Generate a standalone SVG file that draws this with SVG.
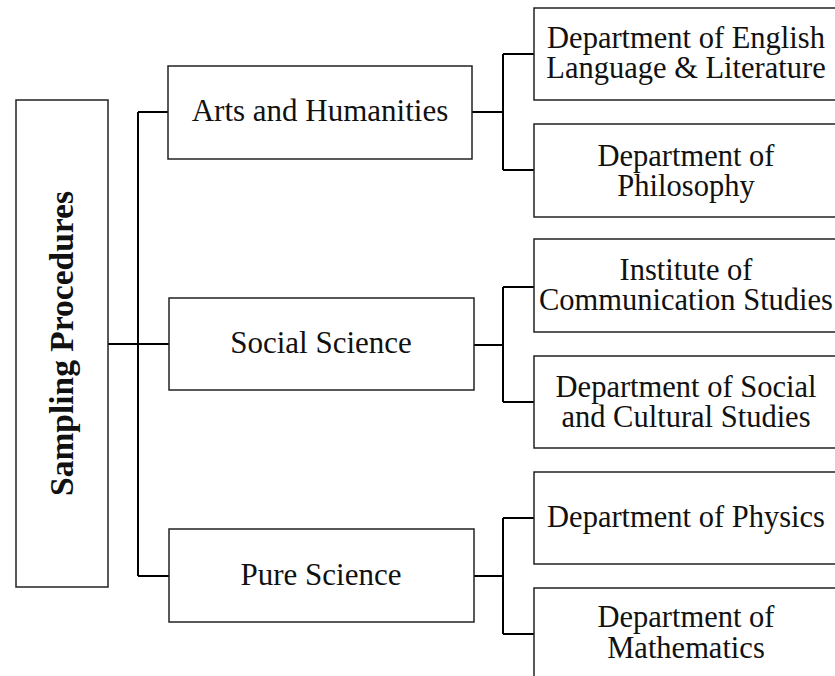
<svg xmlns="http://www.w3.org/2000/svg" width="835" height="676" viewBox="0 0 835 676">
<style>
.box{fill:#fff;stroke:#222;stroke-width:1.5}
.t{font-family:"Liberation Serif","Times New Roman",serif;font-size:30.5px;fill:#111;text-anchor:middle}
.m{font-size:31px}
.rt{font-family:"Liberation Serif","Times New Roman",serif;font-size:33.5px;font-weight:bold;fill:#111;text-anchor:middle}
.c{fill:none;stroke:#000;stroke-width:2}
</style>
<rect width="835" height="676" fill="#fff"/>
<g id="connectors">
<path class="c" d="M108,344H138M138,112V576M138,112H168M138,344H169M138,576H169"/>
<path class="c" d="M472,112H503M503,54V170M503,54H534M503,170H534"/>
<path class="c" d="M474,345H503M503,287V402M503,287H534M503,402H534"/>
<path class="c" d="M474,576H503M503,518V634M503,518H534M503,634H534"/>
</g>
<g id="root">
<rect class="box" x="16" y="100" width="92" height="487"/>
<text class="rt" transform="translate(73,343.5) rotate(-90)">Sampling Procedures</text>
</g>
<g id="arts">
<rect class="box" x="168" y="66" width="304" height="93"/>
<text class="t m" x="320" y="121">Arts and Humanities</text>
</g>
<g id="social">
<rect class="box" x="169" y="298" width="305" height="92"/>
<text class="t m" x="321" y="353">Social Science</text>
</g>
<g id="pure">
<rect class="box" x="169" y="529" width="305" height="93"/>
<text class="t m" x="321" y="585">Pure Science</text>
</g>
<g id="english">
<rect class="box" x="534" y="8" width="304" height="92"/>
<text class="t" x="686" y="48">Department of English</text>
<text class="t" x="686" y="78">Language &amp; Literature</text>
</g>
<g id="philosophy">
<rect class="box" x="534" y="124" width="304" height="93"/>
<text class="t" x="686" y="165.5">Department of</text>
<text class="t" x="686" y="195.5">Philosophy</text>
</g>
<g id="communication">
<rect class="box" x="534" y="239" width="304" height="93"/>
<text class="t" x="686" y="280">Institute of</text>
<text class="t" x="686" y="310">Communication Studies</text>
</g>
<g id="socialcultural">
<rect class="box" x="534" y="356" width="304" height="92"/>
<text class="t" x="686" y="396.5">Department of Social</text>
<text class="t" x="686" y="426.5">and Cultural Studies</text>
</g>
<g id="physics">
<rect class="box" x="534" y="472" width="304" height="92"/>
<text class="t" x="686" y="527">Department of Physics</text>
</g>
<g id="mathematics">
<rect class="box" x="534" y="588" width="304" height="93"/>
<text class="t" x="686" y="626.5">Department of</text>
<text class="t" x="686" y="658">Mathematics</text>
</g>
</svg>
